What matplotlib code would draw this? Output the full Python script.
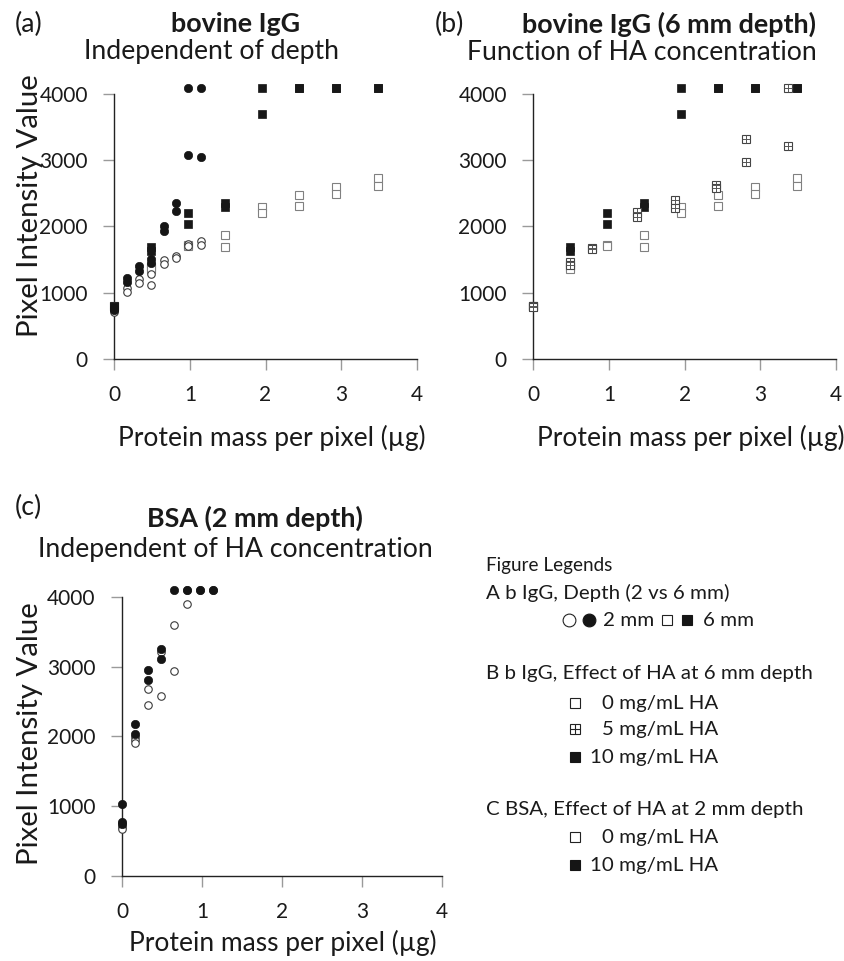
import matplotlib
matplotlib.use('Agg')
import matplotlib.pyplot as plt

plt.rcParams['font.family'] = ['Lato', 'DejaVu Sans']

# ---------------- data ----------------
# Panel (a): bovine IgG, depth comparison
a_2mm_0ha_x = [0, 0, 0.163, 0.163, 0.326, 0.326, 0.489, 0.489, 0.652, 0.652, 0.815, 0.815, 0.978, 0.978, 1.141, 1.141]
a_2mm_0ha_y = [760, 710, 1063, 1013, 1199, 1139, 1280, 1113, 1491, 1431, 1552, 1516, 1733, 1703, 1783, 1718]
a_2mm_10ha_x = [0, 0, 0.163, 0.163, 0.326, 0.326, 0.489, 0.489, 0.652, 0.652, 0.815, 0.815, 0.978, 0.978, 1.141, 1.141]
a_2mm_10ha_y = [760, 730, 1214, 1164, 1400, 1325, 1501, 1441, 2010, 1934, 2348, 2237, 4095, 3078, 4095, 3053]

# 6 mm depth, 0 and 10 mg/mL HA (shared by panels a and b)
d6_0ha_x = [0, 0, 0.489, 0.489, 0.978, 0.978, 1.467, 1.467, 1.956, 1.956, 2.445, 2.445, 2.934, 2.934, 3.49, 3.49]
d6_0ha_y = [800, 790, 1380, 1350, 1718, 1705, 1874, 1683, 2297, 2207, 2469, 2307, 2600, 2484, 2735, 2610]
d6_10ha_x = [0, 0, 0.489, 0.489, 0.978, 0.978, 1.467, 1.467, 1.956, 1.956, 2.445, 2.445, 2.934, 2.934, 3.49, 3.49]
d6_10ha_y = [800, 785, 1693, 1627, 2207, 2035, 2358, 2287, 4095, 3703, 4095, 4095, 4095, 4095, 4095, 4095]

# Panel (b): 5 mg/mL HA at 6 mm depth
b_5ha_x = [0, 0, 0.485, 0.485, 0.77, 0.77, 1.37, 1.37, 1.868, 1.868, 2.41, 2.41, 2.81, 2.81, 3.36, 3.36]
b_5ha_y = [800, 785, 1456, 1420, 1668, 1655, 2221, 2146, 2398, 2282, 2625, 2574, 3320, 2972, 4095, 3219]

# Panel (c): BSA at 2 mm depth
c_0ha_x = [0, 0, 0.163, 0.163, 0.163, 0.326, 0.326, 0.489, 0.489, 0.652, 0.652, 0.815, 0.815, 0.978, 1.141]
c_0ha_y = [706, 668, 1995, 1947, 1900, 2678, 2449, 3212, 2573, 3599, 2940, 3895, 4095, 4095, 4095]
c_10ha_x = [0, 0, 0, 0.163, 0.163, 0.326, 0.326, 0.489, 0.489, 0.652, 0.815, 0.978, 1.141]
c_10ha_y = [1031, 773, 745, 2177, 2033, 2950, 2807, 3251, 3112, 4095, 4095, 4095, 4095]

x_ticks = [0, 1, 2, 3, 4]
y_ticks = [0, 1000, 2000, 3000, 4000]

# ---------------- figure ----------------
W, H = 844, 961
fig = plt.figure(figsize=(W / 100, H / 100), dpi=100)
TXT = '#1a1a1a'


def px_axes(x0, x4, y0, y4000):
    return fig.add_axes([x0 / W, 1 - y0 / H, (x4 - x0) / W, (y0 - y4000) / H])


def style(ax):
    ax.set_xlim(0, 4)
    ax.set_ylim(0, 4000)
    ax.set_facecolor('none')
    for s in ('top', 'right'):
        ax.spines[s].set_visible(False)
    for s in ('left', 'bottom'):
        ax.spines[s].set_color('#222222')
        ax.spines[s].set_linewidth(1.0)
    ax.set_xticks(x_ticks)
    ax.set_yticks(y_ticks)
    ax.set_xticklabels([str(v) for v in x_ticks])
    ax.set_yticklabels([str(v) for v in y_ticks])
    ax.tick_params(direction='out', length=8, width=1, color='#9a9a9a',
                   labelsize=15, labelcolor=TXT, pad=11)


def open_circ(ax, x, y, z=3):
    ax.plot(x, y, ls='none', marker='o', ms=5.4, mfc='white', mec='#3a3a3a', mew=0.8, clip_on=False, zorder=z)


def fill_circ(ax, x, y, z=4):
    ax.plot(x, y, ls='none', marker='o', ms=6.0, mfc='#151515', mec='#151515', mew=0.5, clip_on=False, zorder=z)


def open_sq(ax, x, y, z=3):
    ax.plot(x, y, ls='none', marker='s', ms=5.2, mfc='white', mec='#808080', mew=0.8, clip_on=False, zorder=z)


def fill_sq(ax, x, y, z=4):
    ax.plot(x, y, ls='none', marker='s', ms=5.4, mfc='#181818', mec='#181818', mew=0.5, clip_on=False, zorder=z)


def hatch_sq(ax, x, y, z=5):
    ax.plot(x, y, ls='none', marker='s', ms=5.2, mfc='white', mec='#444444', mew=0.8, clip_on=False, zorder=z)
    ax.plot(x, y, ls='none', marker='+', ms=5.2, color='#555555', mew=0.7, clip_on=False, zorder=z + 0.1)


axA = px_axes(114.3, 416.7, 358.7, 94.0)
axB = px_axes(533.3, 836.1, 358.7, 94.0)
axC = px_axes(122.0, 442.0, 876.0, 596.7)
for ax in (axA, axB, axC):
    style(ax)

# panel a
open_sq(axA, d6_0ha_x, d6_0ha_y)
open_circ(axA, a_2mm_0ha_x, a_2mm_0ha_y)
fill_sq(axA, d6_10ha_x, d6_10ha_y)
fill_circ(axA, a_2mm_10ha_x, a_2mm_10ha_y)

# panel b
open_sq(axB, d6_0ha_x, d6_0ha_y)
fill_sq(axB, d6_10ha_x, d6_10ha_y)
hatch_sq(axB, b_5ha_x, b_5ha_y)

# panel c
open_circ(axC, c_0ha_x, c_0ha_y)
fill_circ(axC, c_10ha_x, c_10ha_y)

# ---------------- overlay for text ----------------
ov = fig.add_axes([0, 0, 1, 1], zorder=10)
ov.set_xlim(0, W)
ov.set_ylim(H, 0)
ov.axis('off')
ov.patch.set_alpha(0)

renderer = fig.canvas.get_renderer()


def fit_size(items, bold=False, base=10.0):
    sizes = []
    for s, target in items:
        t = ov.text(0, 0, s, fontsize=base, fontweight='bold' if bold else 'normal')
        w = t.get_window_extent(renderer=renderer).width
        t.remove()
        sizes.append(base * target / w)
    return sum(sizes) / len(sizes)


title_fs = fit_size([('bovine IgG', 125), ('bovine IgG (6 mm depth)', 295), ('BSA (2 mm depth)', 226)], bold=True)
sub_fs = fit_size([('Independent of depth', 256), ('Function of HA concentration', 348),
                   ('Independent of HA concentration', 399)])
lab_fs = fit_size([('Protein mass per pixel (µg)', 308)])
ylab_fs = fit_size([('Pixel Intensity Value', 262)])
leg_fs = fit_size([('A b IgG, Depth (2 vs 6 mm)', 244), ('B b IgG, Effect of HA at 6 mm depth', 322)])


def T(x, y, s, fs, ha='center', bold=False, rot=0, va='center'):
    ov.text(x, y, s, fontsize=fs, ha=ha, va=va, color=TXT, rotation=rot,
            fontweight='bold' if bold else 'normal')


# panel letters / titles
T(15, 24, '(a)', sub_fs, ha='left')
T(235.5, 24, 'bovine IgG', title_fs, bold=True)
T(211, 52, 'Independent of depth', sub_fs)
T(435, 24, '(b)', sub_fs, ha='left')
T(669.5, 24, 'bovine IgG (6 mm depth)', title_fs, bold=True)
T(642, 52, 'Function of HA concentration', sub_fs)
T(15, 507, '(c)', sub_fs, ha='left')
T(255, 518, 'BSA (2 mm depth)', title_fs, bold=True)
T(235.5, 550, 'Independent of HA concentration', sub_fs)

# axis labels
T(272, 438, 'Protein mass per pixel (µg)', lab_fs)
T(691, 438, 'Protein mass per pixel (µg)', lab_fs)
T(283, 943, 'Protein mass per pixel (µg)', lab_fs)
T(30, 206, 'Pixel Intensity Value', ylab_fs, rot=90)
T(30, 734, 'Pixel Intensity Value', ylab_fs, rot=90)

# legend block
T(486, 565, 'Figure Legends', leg_fs * 0.92, ha='left')
T(486, 593, 'A b IgG, Depth (2 vs 6 mm)', leg_fs, ha='left')
mk = dict(ls='none', clip_on=False, zorder=11)
ov.plot([569], [620], marker='o', ms=9.2, mfc='white', mec='#222222', mew=0.8, **mk)
ov.plot([589], [620], marker='o', ms=9.2, mfc='#151515', mec='#151515', mew=0.8, **mk)
T(603, 620, '2 mm', leg_fs, ha='left')
ov.plot([667], [620], marker='s', ms=7.8, mfc='white', mec='#222222', mew=0.8, **mk)
ov.plot([687], [620], marker='s', ms=7.8, mfc='#151515', mec='#151515', mew=0.8, **mk)
T(703, 620, '6 mm', leg_fs, ha='left')

T(486, 673, 'B b IgG, Effect of HA at 6 mm depth', leg_fs, ha='left')
for yy, lab, kind in [(703, '0 mg/mL HA', 'open'), (729, '5 mg/mL HA', 'hatch'), (757, '10 mg/mL HA', 'fill'),
                      (837, '0 mg/mL HA', 'open'), (865, '10 mg/mL HA', 'fill')]:
    if kind == 'fill':
        ov.plot([575], [yy], marker='s', ms=7.8, mfc='#151515', mec='#151515', mew=0.8, **mk)
    else:
        ov.plot([575], [yy], marker='s', ms=7.8, mfc='white', mec='#222222', mew=0.8, **mk)
        if kind == 'hatch':
            ov.plot([575], [yy], marker='+', ms=7.8, color='#222222', mew=0.8, **mk)
    T(718, yy, lab, leg_fs, ha='right')
T(486, 810, 'C BSA, Effect of HA at 2 mm depth', leg_fs, ha='left')

fig.savefig('out.png', dpi=100)
